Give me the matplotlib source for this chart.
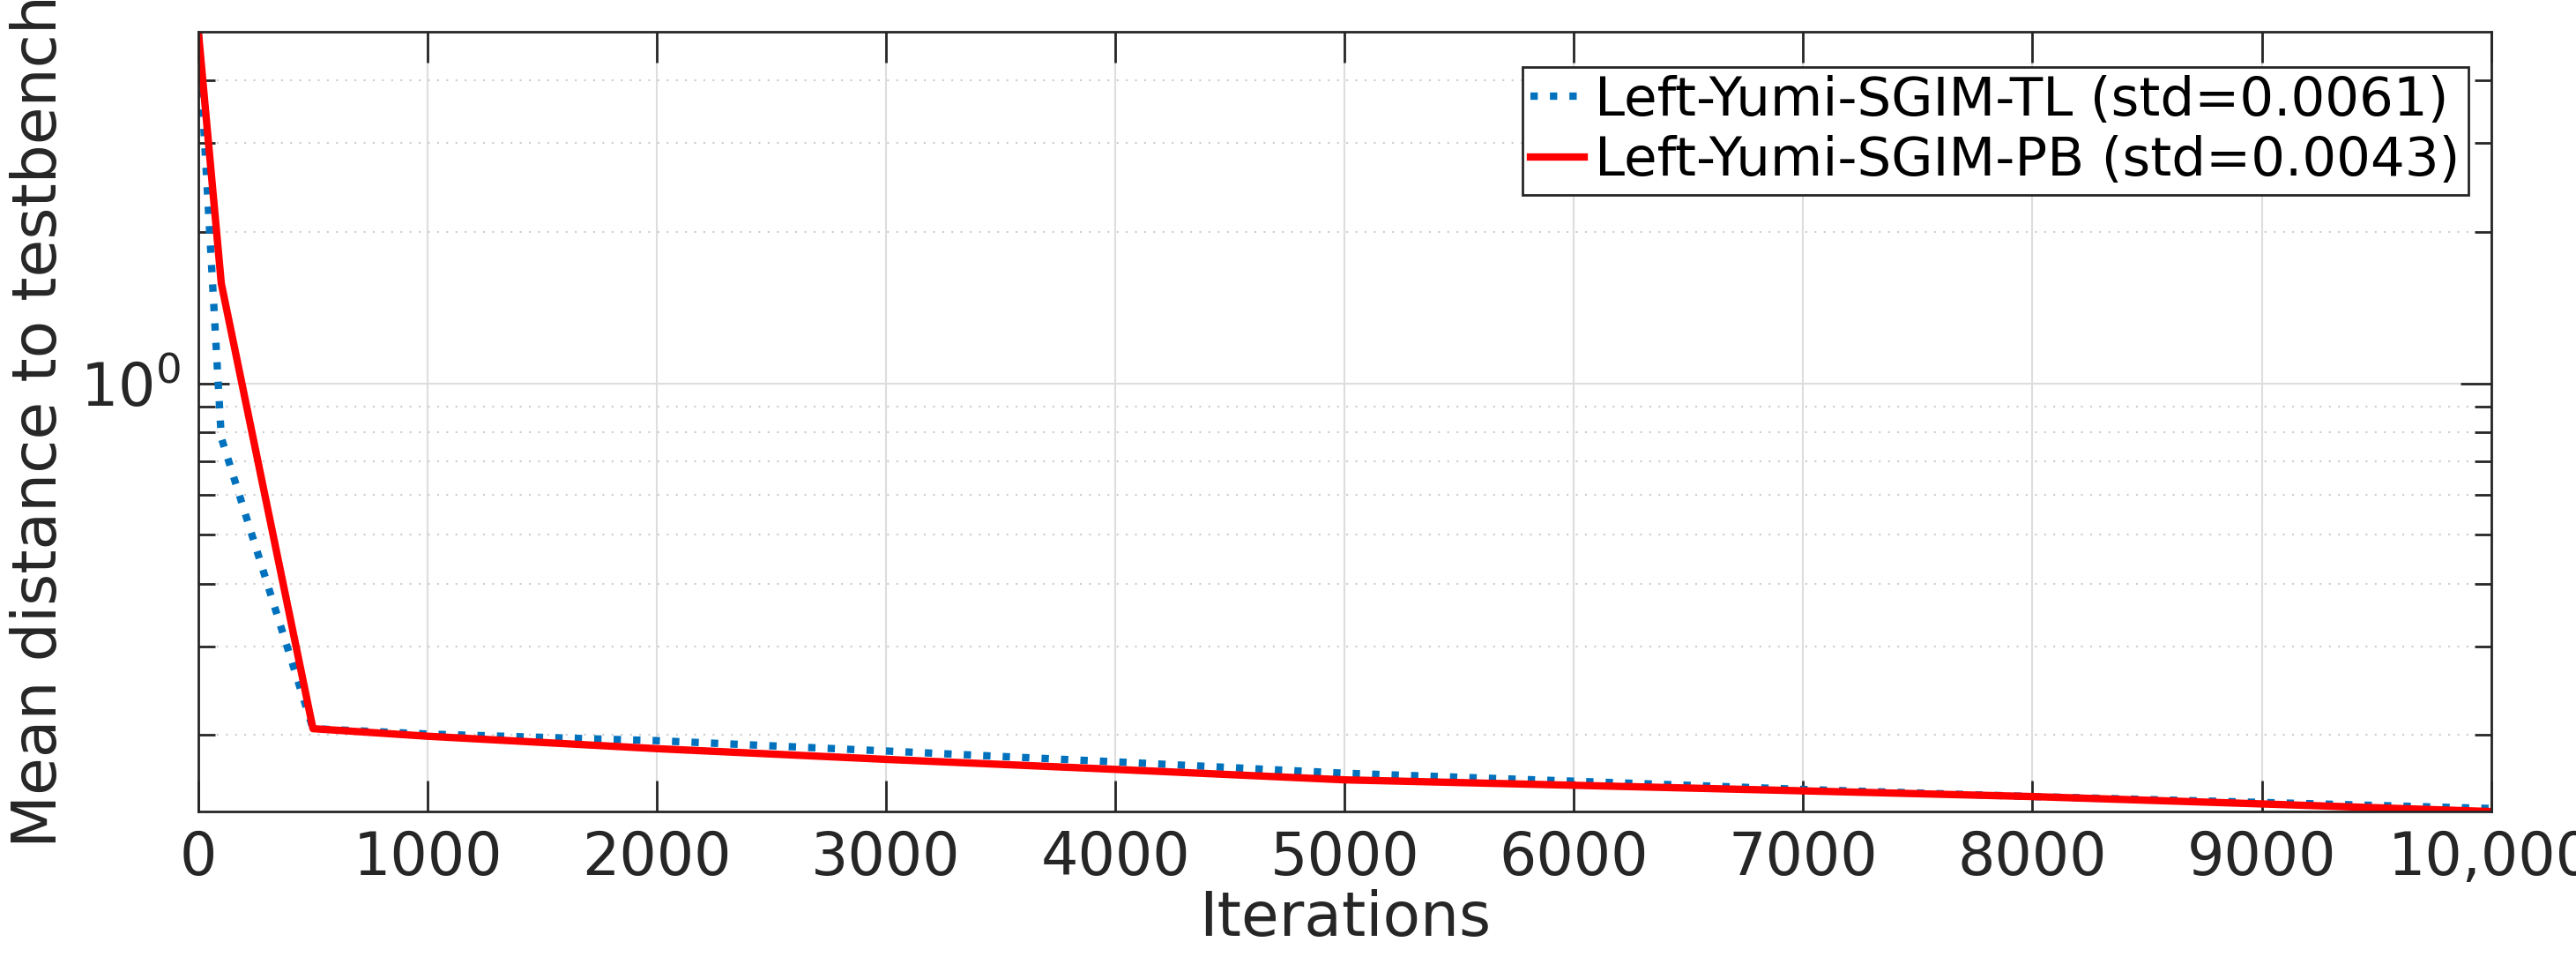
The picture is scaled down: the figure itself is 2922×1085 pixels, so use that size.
import matplotlib
matplotlib.use("Agg")
import matplotlib.pyplot as plt
from matplotlib.ticker import FixedLocator, NullFormatter, FixedFormatter

iters = [0, 100, 500, 1000, 2000, 3000, 4000, 5000, 6000, 7000, 8000, 9000, 10000]
tl = [5.0, 0.78, 0.206, 0.201, 0.195, 0.186, 0.177, 0.168, 0.162, 0.156, 0.151, 0.147, 0.143]
pb = [5.0, 1.58, 0.206, 0.199, 0.188, 0.179, 0.171, 0.163, 0.159, 0.155, 0.151, 0.146, 0.141]
xticks = [0, 1000, 2000, 3000, 4000, 5000, 6000, 7000, 8000, 9000, 10000]
xticklabels = ["0", "1000", "2000", "3000", "4000", "5000", "6000", "7000", "8000", "9000", "10,000"]

plt.rcParams['font.family'] = ['DejaVu Sans']
fig = plt.figure(figsize=(29.22, 10.85), dpi=100)
ax = fig.add_axes([0.077, 0.152, 0.89, 0.815])
ax.plot(iters, tl, linestyle=':', color='#0072BD', lw=6, label='Left-Yumi-SGIM-TL (std=0.0061)')
ax.plot(iters, pb, linestyle='-', color='#FF0000', lw=6, label='Left-Yumi-SGIM-PB (std=0.0043)')
ax.set_yscale('log')
ax.set_xlim(0, 10000)
ax.set_ylim(0.141, 5.0)
ax.set_xticks(xticks)
ax.set_xticklabels(xticklabels)
ax.yaxis.set_major_locator(FixedLocator([1.0]))
ax.yaxis.set_major_formatter(FixedFormatter([r'$10^0$']))
ax.yaxis.set_minor_locator(FixedLocator([0.2, 0.3, 0.4, 0.5, 0.6, 0.7, 0.8, 0.9, 2, 3, 4]))
ax.yaxis.set_minor_formatter(NullFormatter())
ax.tick_params(axis='both', which='both', direction='in', labelsize=48, colors='#262626', width=2,
               top=True, right=True, pad=14)
ax.tick_params(which='major', length=25)
ax.tick_params(which='minor', length=14)
ax.grid(True, which='major', color='#dddddd', lw=1.5)
ax.grid(True, which='minor', axis='y', color='#cccccc', lw=1.5, linestyle=(0, (1, 4)))
for s in ax.spines.values():
    s.set_linewidth(2)
    s.set_color('#262626')
ax.set_xlabel('Iterations', fontsize=50, color='#262626', labelpad=2)
ax.set_ylabel('Mean distance to testbench', fontsize=50, color='#262626', labelpad=10)
leg = ax.legend(loc='upper right', fontsize=44, frameon=True, fancybox=False, edgecolor='#262626',
                handlelength=1.0, handletextpad=0.2, borderpad=0.15, labelspacing=0.15,
                borderaxespad=0, bbox_to_anchor=(0.99, 0.955))
leg.get_frame().set_linewidth(2)
leg.get_frame().set_alpha(1)
fig.savefig('out.png', dpi=100)
